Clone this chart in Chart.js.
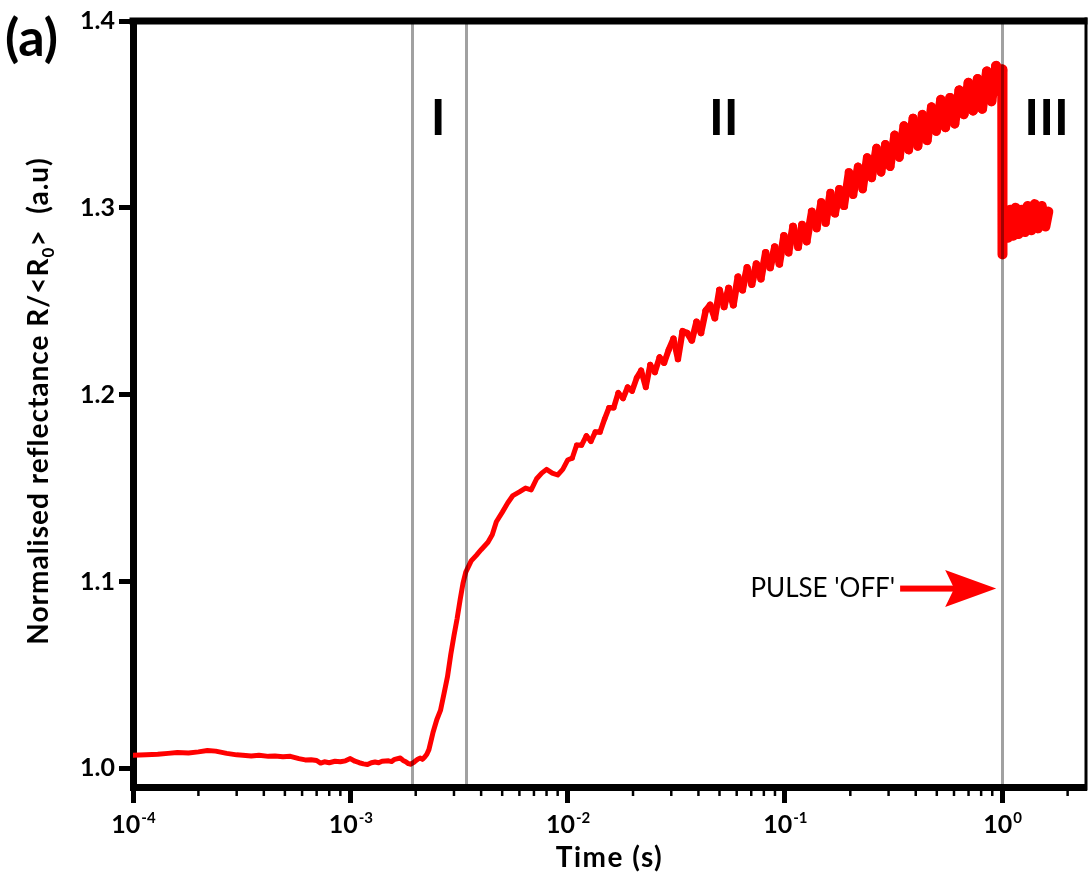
<!DOCTYPE html>
<html>
<head>
<meta charset="utf-8">
<script src="https://cdn.jsdelivr.net/npm/chart.js@4.4.0/dist/chart.umd.min.js"></script>
<style>
html, body { margin: 0; padding: 0; background: #fff; }
</style>
</head>
<body>
<canvas id="reflChart" width="1089" height="880"></canvas>
<script>
// time (s) and normalised reflectance
var timeS = [
  1.0e-4, 1.15e-4, 1.3e-4, 1.45e-4, 1.6e-4, 1.8e-4, 2.0e-4, 2.2e-4, 2.4e-4, 2.7e-4,
  3.0e-4, 3.2e-4, 3.5e-4, 3.8e-4, 4.2e-4, 4.5e-4, 4.9e-4, 5.3e-4, 5.8e-4, 6.2e-4,
  6.6e-4, 7.0e-4, 7.3e-4, 7.6e-4, 8.0e-4, 8.5e-4, 9.0e-4, 9.5e-4, 1.0e-3, 1.05e-3,
  1.1e-3, 1.15e-3, 1.2e-3, 1.25e-3, 1.3e-3, 1.35e-3, 1.4e-3, 1.5e-3, 1.55e-3, 1.6e-3,
  1.7e-3, 1.75e-3, 1.8e-3, 1.85e-3, 1.9e-3, 1.95e-3, 2.0e-3, 2.05e-3, 2.1e-3, 2.15e-3,
  2.2e-3, 2.25e-3, 2.3e-3, 2.4e-3, 2.5e-3, 2.6e-3, 2.7e-3, 2.8e-3, 2.9e-3, 3.0e-3,
  3.1e-3, 3.2e-3, 3.3e-3, 3.4e-3, 3.6e-3, 3.8e-3, 4.0e-3, 4.3e-3, 4.5e-3, 4.7e-3,
  5.0e-3, 5.3e-3, 5.6e-3, 6.0e-3, 6.4e-3, 6.8e-3, 7.2e-3, 7.6e-3, 8.0e-3, 8.5e-3,
  9.0e-3, 9.5e-3,
  0.0100, 0.0105, 0.0110, 0.0116, 0.0122, 0.0128, 0.0134, 0.0141, 0.0148, 0.0155,
  0.0163, 0.0171, 0.0180, 0.0189, 0.0198, 0.0208, 0.0218, 0.0229, 0.0240, 0.0252,
  0.0265, 0.0278, 0.0292, 0.0307, 0.0322, 0.0338, 0.0355, 0.0373, 0.0392, 0.0411,
  0.0432, 0.0453, 0.0476, 0.0500, 0.0525, 0.0551, 0.0579, 0.0608, 0.0638, 0.0670,
  0.0704, 0.0739, 0.0776, 0.0815, 0.0855, 0.0898, 0.0943, 0.0990, 0.104, 0.109,
  0.115, 0.120, 0.126, 0.133, 0.140, 0.147, 0.154, 0.162, 0.170, 0.178,
  0.187, 0.197, 0.206, 0.217, 0.228, 0.239, 0.251, 0.264, 0.277, 0.290,
  0.305, 0.320, 0.336, 0.353, 0.371, 0.389, 0.409, 0.429, 0.451, 0.473,
  0.497, 0.522, 0.548, 0.575, 0.604, 0.634, 0.666, 0.699, 0.734, 0.771,
  0.809, 0.850, 0.892, 0.937, 0.984, 1.000,
  1.001, 1.005, 1.03, 1.06, 1.09, 1.12, 1.15, 1.19, 1.23, 1.27,
  1.31, 1.36, 1.41, 1.46, 1.52, 1.58, 1.63
];
var reflectance = [
  1.0070, 1.0072, 1.0075, 1.0080, 1.0085, 1.0082, 1.0088, 1.0095, 1.0092, 1.0080,
  1.0072, 1.0070, 1.0066, 1.0070, 1.0064, 1.0066, 1.0062, 1.0064, 1.0052, 1.0045,
  1.0046, 1.0042, 1.0028, 1.0035, 1.0030, 1.0038, 1.0035, 1.0040, 1.0052, 1.0038,
  1.0030, 1.0024, 1.0020, 1.0030, 1.0034, 1.0030, 1.0038, 1.0040, 1.0036, 1.0048,
  1.0055, 1.0042, 1.0035, 1.0025, 1.0022, 1.0030, 1.0040, 1.0050, 1.0055, 1.0048,
  1.0060, 1.0075, 1.010, 1.019, 1.026, 1.031, 1.040, 1.049, 1.061, 1.071,
  1.080, 1.090, 1.099, 1.105, 1.111, 1.114, 1.117, 1.121, 1.125, 1.132,
  1.137, 1.142, 1.146, 1.148, 1.150, 1.149, 1.155, 1.158, 1.160, 1.158,
  1.157, 1.160,
  1.165, 1.166, 1.173, 1.173, 1.178, 1.175, 1.180, 1.180, 1.187, 1.193,
  1.193, 1.201, 1.198, 1.204, 1.202, 1.209, 1.213, 1.204, 1.216, 1.212,
  1.220, 1.217, 1.224, 1.230, 1.219, 1.234, 1.233, 1.229, 1.239, 1.233,
  1.245, 1.248, 1.241, 1.256, 1.247, 1.257, 1.248, 1.263, 1.256, 1.268,
  1.259, 1.270, 1.262, 1.276, 1.268, 1.279, 1.270, 1.285, 1.276, 1.290,
  1.279, 1.291, 1.282, 1.298, 1.289, 1.303, 1.292, 1.308, 1.297, 1.310,
  1.301, 1.319, 1.307, 1.322, 1.310, 1.327, 1.316, 1.332, 1.319, 1.334,
  1.322, 1.339, 1.327, 1.344, 1.331, 1.348, 1.333, 1.350, 1.336, 1.354,
  1.341, 1.358, 1.343, 1.359, 1.345, 1.363, 1.350, 1.367, 1.352, 1.369,
  1.353, 1.373, 1.357, 1.376, 1.362, 1.374,
  1.275, 1.283, 1.297, 1.284, 1.299, 1.285, 1.300, 1.286, 1.299, 1.287,
  1.301, 1.288, 1.302, 1.289, 1.301, 1.290, 1.298
];

var xTicks = [1e-4, 1e-3, 1e-2, 1e-1, 1];
var xTickExp = ['-4', '-3', '-2', '-1', '0'];
var yTicks = [1.0, 1.1, 1.2, 1.3, 1.4];
var regionLines = [1.92e-3, 3.42e-3, 1.0];
var regionNames = ['I', 'II', 'III'];
var regionNameTimes = [2.54e-3, 0.0523, 1.60];

var points = timeS.map(function (t, i) { return { x: t, y: reflectance[i] }; });

var FONT = 'Lato, "DejaVu Sans", sans-serif';

// noisy part of the trace is drawn a bit thicker as time grows
function segWidth(c) {
  var t = c.p0.parsed.x;
  if (t < 0.01) return 5;
  if (t > 1.0005) return 10;
  return 5 + 5 * (Math.log10(t) + 2) / 2;
}

var decorPlugin = {
  id: 'decor',
  afterDatasetsDraw: function (chart) {
    var ctx = chart.ctx, a = chart.chartArea, xs = chart.scales.x;
    ctx.save();
    ctx.strokeStyle = 'rgba(0,0,0,0.37)';
    ctx.lineWidth = 3;
    regionLines.forEach(function (t) {
      var px = Math.round(xs.getPixelForValue(t)) + 0.5;
      ctx.beginPath();
      ctx.moveTo(px, a.top);
      ctx.lineTo(px, a.bottom);
      ctx.stroke();
    });
    ctx.restore();
  },
  afterDraw: function (chart) {
    var ctx = chart.ctx, a = chart.chartArea, xs = chart.scales.x, ys = chart.scales.y;
    ctx.save();
    // top and right frame
    ctx.fillStyle = '#000';
    ctx.fillRect(a.left - 3.5, a.top - 3.5, a.right - a.left + 5, 7);
    ctx.fillRect(a.right - 1.5, a.top - 3.5, 3, a.bottom - a.top + 7);

    // minor ticks on the log axis
    ctx.strokeStyle = '#000';
    ctx.lineWidth = 2.5;
    xTicks.forEach(function (d) {
      for (var m = 2; m <= 9; m++) {
        var v = d * m;
        if (v > xs.max) break;
        var px = xs.getPixelForValue(v);
        ctx.beginPath();
        ctx.moveTo(px, a.bottom + 3);
        ctx.lineTo(px, a.bottom + 9);
        ctx.stroke();
      }
    });

    // x tick labels 10^n
    ctx.fillStyle = '#000';
    ctx.textBaseline = 'alphabetic';
    ctx.textAlign = 'left';
    xTicks.forEach(function (v, i) {
      var px = xs.getPixelForValue(v);
      ctx.font = 'bold 25px ' + FONT;
      var wb = ctx.measureText('10').width;
      ctx.font = 'bold 15px ' + FONT;
      var we = ctx.measureText(xTickExp[i]).width;
      var x0 = px - (wb + we) / 2;
      ctx.font = 'bold 25px ' + FONT;
      ctx.fillText('10', x0, 833);
      ctx.font = 'bold 15px ' + FONT;
      ctx.fillText(xTickExp[i], x0 + wb + 1, 823);
    });

    // x title
    ctx.font = 'bold 28px ' + FONT;
    ctx.letterSpacing = '1.5px';
    ctx.textAlign = 'center';
    ctx.fillText('Time (s)', (a.left + a.right) / 2, 867);

    // y title with subscript
    ctx.letterSpacing = '1px';
    var parts = [
      { s: 'Normalised reflectance R/<R', f: 'bold 28px ' + FONT, dy: 0 },
      { s: '0', f: 'bold 17px ' + FONT, dy: 6 },
      { s: '>  (a.u)', f: 'bold 28px ' + FONT, dy: 0 }
    ];
    var total = 0;
    parts.forEach(function (p) { ctx.font = p.f; p.w = ctx.measureText(p.s).width; total += p.w; });
    ctx.translate(48, 401);
    ctx.rotate(-Math.PI / 2);
    ctx.textAlign = 'left';
    var cx = -total / 2;
    parts.forEach(function (p) {
      ctx.font = p.f;
      ctx.fillText(p.s, cx, p.dy);
      cx += p.w;
    });
    ctx.setTransform(1, 0, 0, 1, 0, 0);
    ctx.letterSpacing = '0px';

    // panel tag
    ctx.font = 'bold 52px ' + FONT;
    ctx.textAlign = 'left';
    ctx.fillText('(a)', 5, 56);

    // region names
    ctx.font = 'bold 50px ' + FONT;
    ctx.textAlign = 'center';
    regionNames.forEach(function (n, i) {
      ctx.fillText(n, xs.getPixelForValue(regionNameTimes[i]), ys.getPixelForValue(1.339));
    });

    // pulse off label and arrow
    ctx.font = '26px ' + FONT;
    ctx.textAlign = 'right';
    ctx.fillText("PULSE 'OFF'", xs.getPixelForValue(0.3215), ys.getPixelForValue(1.0917));
    var tipX = xs.getPixelForValue(0.938), tipY = ys.getPixelForValue(1.0962);
    var tailX = xs.getPixelForValue(0.339);
    ctx.fillStyle = '#ff0000';
    ctx.fillRect(tailX, tipY - 3, tipX - tailX - 40, 6);
    ctx.beginPath();
    ctx.moveTo(tipX, tipY);
    ctx.lineTo(tipX - 51, tipY - 18.5);
    ctx.lineTo(tipX - 42, tipY);
    ctx.lineTo(tipX - 51, tipY + 18.5);
    ctx.closePath();
    ctx.fill();
    ctx.restore();
  }
};

var ctx = document.getElementById('reflChart').getContext('2d');
var chart = new Chart(ctx, {
  type: 'line',
  data: {
    datasets: [{
      label: 'R/<R0>',
      data: points,
      borderColor: '#ff0000',
      borderWidth: 5,
      borderJoinStyle: 'round',
      borderCapStyle: 'round',
      segment: { borderWidth: segWidth },
      pointRadius: 0,
      tension: 0,
      fill: false
    }]
  },
  options: {
    responsive: false,
    animation: false,
    layout: { padding: { top: 21, right: 3, left: 0, bottom: 0 } },
    plugins: {
      legend: { display: false },
      tooltip: { enabled: false }
    },
    scales: {
      x: {
        type: 'logarithmic',
        min: 1e-4,
        max: 2.43,
        afterBuildTicks: function (s) { s.ticks = xTicks.map(function (v) { return { value: v, major: true }; }); },
        afterFit: function (s) { s.height = 93; },
        border: { display: true, width: 7, color: '#000' },
        grid: { drawOnChartArea: false, drawTicks: true, tickLength: 16, tickWidth: 5, tickColor: '#000', color: '#000' },
        ticks: { display: false }
      },
      y: {
        min: 0.99,
        max: 1.40,
        afterBuildTicks: function (s) { s.ticks = yTicks.map(function (v) { return { value: v }; }); },
        afterFit: function (s) { s.width = 133; },
        border: { display: true, width: 7, color: '#000' },
        grid: { drawOnChartArea: false, drawTicks: true, tickLength: 14, tickWidth: 5, tickColor: '#000', color: '#000' },
        ticks: {
          color: '#000',
          padding: 4,
          font: { family: FONT, weight: 'bold', size: 25 },
          callback: function (v) { return Number(v).toFixed(1); }
        }
      }
    }
  },
  plugins: [decorPlugin]
});
</script>
</body>
</html>
